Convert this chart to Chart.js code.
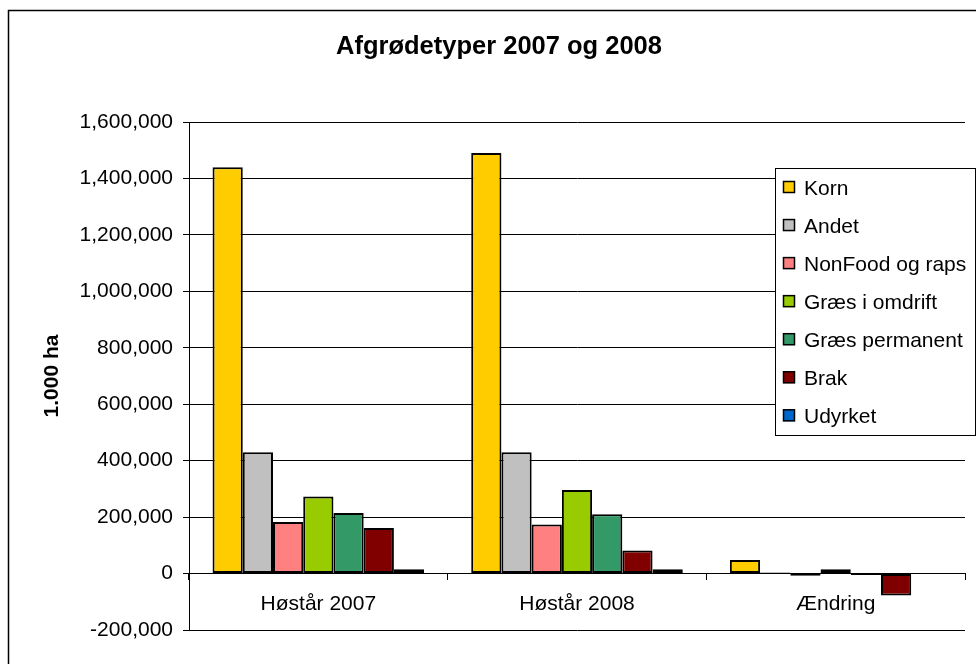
<!DOCTYPE html>
<html><head><meta charset="utf-8">
<script src="https://cdn.jsdelivr.net/npm/chart.js@4.4.1/dist/chart.umd.min.js"></script>
<style>html,body{margin:0;padding:0;background:#fff;overflow:hidden}canvas{display:block}</style>
</head><body>
<canvas id="c" width="976" height="664"></canvas>
<script>
const categories = ["Høstår 2007", "Høstår 2008", "Ændring"];
const seriesNames = ["Korn", "Andet", "NonFood og raps", "Græs i omdrift", "Græs permanent", "Brak", "Udyrket"];
const korn = [1440000, 1490000, 48000];
const andet = [430000, 430000, 4000];
const nonFood = [183000, 174000, -8000];
const graesOmdrift = [273000, 296000, 15000];
const graesPermanent = [215000, 210000, -5000];
const brak = [161000, 82000, -78000];
const udyrket = [15000, 15000, 1000];
const yMin = -200000, yMax = 1600000, yStep = 200000;
const chartTitle = "Afgrødetyper 2007 og 2008";
const yTitle = "1.000 ha";
const seriesColors = ["#FFCC00", "#C0C0C0", "#FF8080", "#99CC00", "#339966", "#800000", "#0066CC"];

const seriesValues = [korn, andet, nonFood, graesOmdrift, graesPermanent, brak, udyrket];
const FONT = "'Liberation Sans', Arial, sans-serif";

const decor = {
  id: 'decor',
  afterDraw(chart) {
    const ctx = chart.ctx;
    ctx.save();
    ctx.strokeStyle = '#000';
    ctx.lineWidth = 1.5;
    ctx.strokeRect(8.5, 10.5, 990, 680);
    ctx.fillStyle = '#000';
    ctx.font = 'bold 25.5px ' + FONT;
    ctx.textAlign = 'center';
    ctx.textBaseline = 'alphabetic';
    ctx.fillText(chartTitle, 499, 54);
    ctx.save();
    ctx.translate(58, 376);
    ctx.rotate(-Math.PI / 2);
    ctx.font = 'bold 21px ' + FONT;
    ctx.fillText(yTitle, 0, 0);
    ctx.restore();
    const lx = 775, ly = 168, lw = 200, lh = 267;
    ctx.fillStyle = '#fff';
    ctx.fillRect(lx, ly, lw, lh);
    ctx.lineWidth = 1;
    ctx.strokeStyle = '#000';
    ctx.strokeRect(lx + 0.5, ly + 0.5, lw, lh);
    ctx.font = '21px ' + FONT;
    ctx.textAlign = 'left';
    chart.data.datasets.forEach((ds, i) => {
      const cy = 187 + i * 38.05;
      ctx.fillStyle = ds.backgroundColor;
      ctx.fillRect(783, cy - 6, 12, 12);
      ctx.strokeStyle = '#000';
      ctx.lineWidth = 1.5;
      ctx.strokeRect(783.5, cy - 5.5, 11, 11);
      ctx.fillStyle = '#000';
      ctx.fillText(ds.label, 804, cy + 7.5);
    });
    ctx.restore();
  }
};

new Chart(document.getElementById('c'), {
  type: 'bar',
  data: {
    labels: categories,
    datasets: seriesNames.map((n, i) => ({
      label: n,
      data: seriesValues[i],
      backgroundColor: seriesColors[i],
      borderColor: '#000',
      borderWidth: 2,
      borderSkipped: false,
      categoryPercentage: 0.818,
      barPercentage: 1.0
    }))
  },
  options: {
    responsive: false,
    animation: false,
    events: [],
    layout: { padding: { left: 0, top: 122, right: 11, bottom: 34 } },
    plugins: { legend: { display: false }, title: { display: false }, tooltip: { enabled: false } },
    scales: {
      x: {
        position: { y: 0 },
        afterFit: s => { s.height = 0; },
        grid: { display: true, drawOnChartArea: false, drawTicks: true, tickLength: 6, color: '#000', offset: true },
        border: { display: true, color: '#000', width: 1 },
        ticks: { color: '#000', font: { family: FONT, size: 21 }, padding: 12, maxRotation: 0 }
      },
      y: {
        min: yMin, max: yMax,
        afterFit: s => { s.width = 189; },
        grid: { color: '#000', lineWidth: 1, tickLength: 6 },
        border: { display: true, color: '#000', width: 1 },
        ticks: {
          stepSize: yStep, color: '#000', padding: 10,
          font: { family: FONT, size: 21 },
          callback: v => Number(v).toLocaleString('en-US')
        }
      }
    }
  },
  plugins: [decor]
});
</script>
</body></html>
